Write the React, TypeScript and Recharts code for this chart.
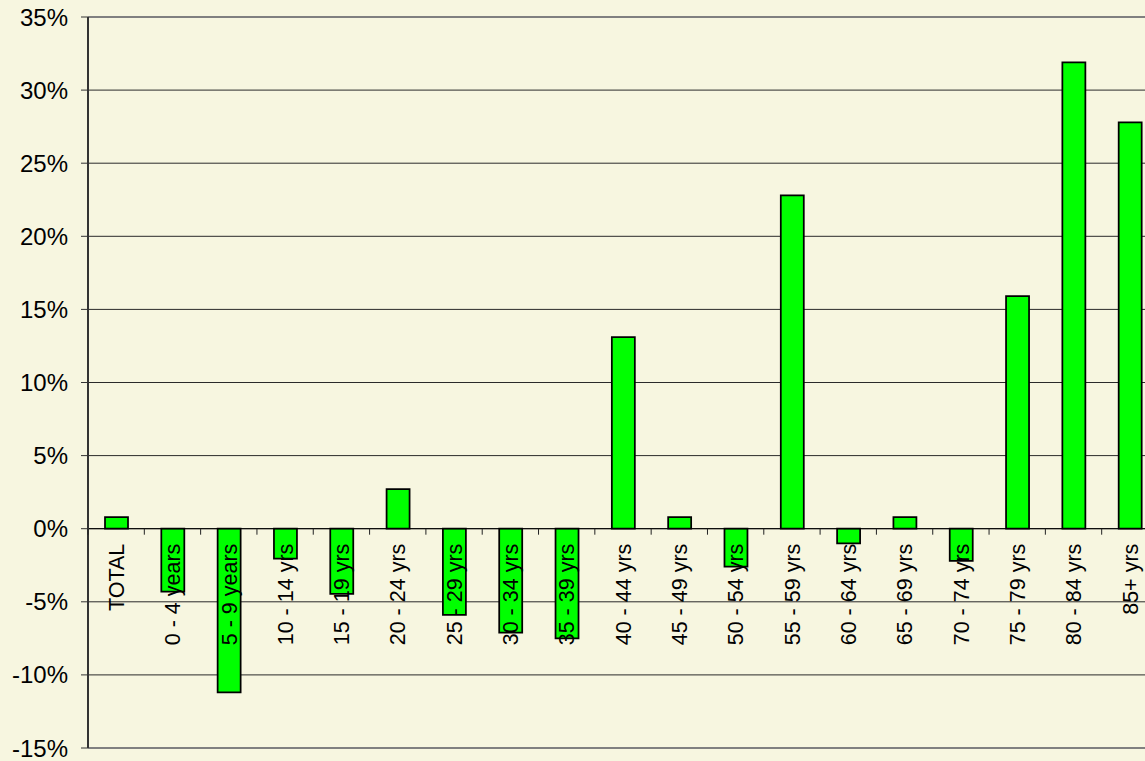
import React from "react";
import {
  Bar,
  BarChart,
  CartesianGrid,
  ReferenceLine,
  XAxis,
  YAxis,
} from "recharts";

const ageGroups = [
  "TOTAL",
  "0 - 4 years",
  "5 - 9 years",
  "10 - 14 yrs",
  "15 - 19 yrs",
  "20 - 24 yrs",
  "25 - 29 yrs",
  "30 - 34 yrs",
  "35 - 39 yrs",
  "40 - 44 yrs",
  "45 - 49 yrs",
  "50 - 54 yrs",
  "55 - 59 yrs",
  "60 - 64 yrs",
  "65 - 69 yrs",
  "70 - 74 yrs",
  "75 - 79 yrs",
  "80 - 84 yrs",
  "85+ yrs",
];

const pctChange = [
  0.8, -4.3, -11.2, -2.05, -4.45, 2.7, -5.9, -7.1, -7.5, 13.1, 0.8, -2.6, 22.8,
  -1.0, 0.8, -2.2, 15.9, 31.9, 27.8,
];

const yTicks = [-15, -10, -5, 0, 5, 10, 15, 20, 25, 30, 35];

const data = ageGroups.map((group, i) => ({ group, value: pctChange[i] }));

const W = 1170;
const H = 761;
const M = { top: 17, right: 12, bottom: 12, left: 0 };
const AXIS_W = 88;
const Y_MIN = yTicks[0];
const Y_MAX = yTicks[yTicks.length - 1];
const PLOT_H = H - M.top - M.bottom - 1;
const ZERO_Y = M.top + (PLOT_H * Y_MAX) / (Y_MAX - Y_MIN);
const FONT = "'Liberation Sans', Arial, sans-serif";

function AgeTick(props: any) {
  const { x, payload } = props;
  const half = payload?.offset ?? 28;
  return (
    <g>
      <line x1={x - half} x2={x - half} y1={ZERO_Y} y2={ZERO_Y + 6} stroke="#222" />
      <text
        x={0}
        y={0}
        dy="0.36em"
        transform={`translate(${x},${ZERO_Y + 15}) rotate(-90)`}
        textAnchor="end"
        fontSize={21.5}
        fontFamily={FONT}
        fill="#000"
      >
        {payload.value}
      </text>
    </g>
  );
}

export default function App() {
  return (
    <div
      style={{
        position: "fixed",
        top: 0,
        left: 0,
        width: 1145,
        height: 761,
        overflow: "hidden",
        background: "#F7F6E0",
      }}
    >
      <BarChart width={W} height={H} data={data} margin={M}>
        <CartesianGrid vertical={false} stroke="#2a2a2a" />
        <ReferenceLine y={Y_MAX} stroke="#808080" strokeWidth={2} />
        <ReferenceLine y={Y_MIN} stroke="#808080" strokeWidth={2} />
        <XAxis
          dataKey="group"
          height={1}
          axisLine={false}
          tickLine={false}
          interval={0}
          tick={<AgeTick />}
        />
        <YAxis
          width={AXIS_W}
          domain={[Y_MIN, Y_MAX]}
          ticks={yTicks}
          interval={0}
          tickFormatter={(v) => `${v}%`}
          tickSize={7}
          tickMargin={13}
          axisLine={{ stroke: "#333", strokeWidth: 2 }}
          tickLine={{ stroke: "#333" }}
          tick={{ fontSize: 24, fontFamily: FONT, fill: "#000" }}
        />
        <Bar
          dataKey="value"
          fill="#00FF00"
          stroke="#000"
          strokeWidth={1.75}
          barSize={23}
          isAnimationActive={false}
        />
        <ReferenceLine y={0} stroke="#000" strokeWidth={1} />
      </BarChart>
    </div>
  );
}
